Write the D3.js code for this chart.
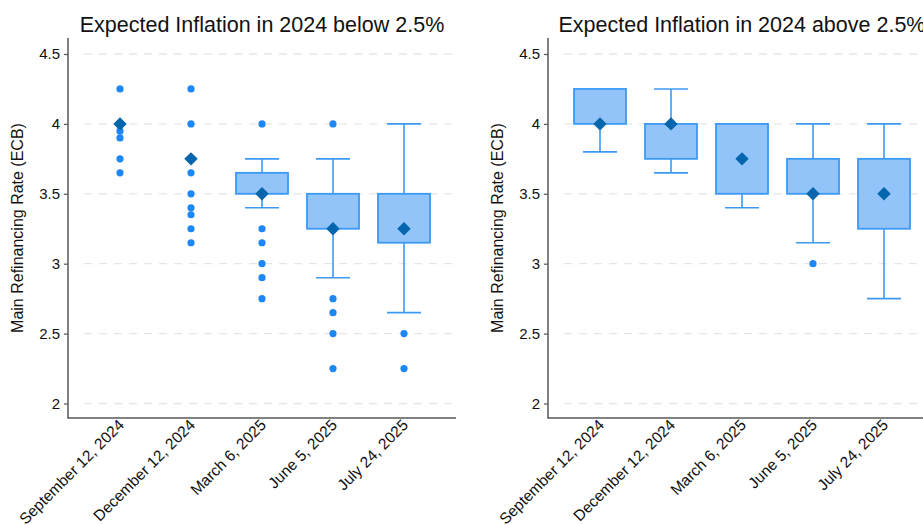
<!DOCTYPE html>
<html>
<head>
<meta charset="utf-8">
<script src="https://cdn.jsdelivr.net/npm/d3@7"></script>
<style>
  html, body { margin: 0; padding: 0; background: #fff; }
  svg { display: block; font-family: "Liberation Sans", Arial, Helvetica, sans-serif; }
</style>
</head>
<body>
<svg id="chart" width="923" height="525"></svg>
<script>
// Survey meeting dates
const categories = ["September 12, 2024", "December 12, 2024", "March 6, 2025", "June 5, 2025", "July 24, 2025"];
const yTicks = [2, 2.5, 3, 3.5, 4, 4.5];
const panelTitles = ["Expected Inflation in 2024 below 2.5%", "Expected Inflation in 2024 above 2.5%"];
const yLabel = "Main Refinancing Rate (ECB)";

// Panel 1: expected inflation below 2.5%
const lowMedian   = [4.00, 3.75, 3.50, 3.25, 3.25];
const lowQ1       = [4.00, 3.75, 3.50, 3.25, 3.15];
const lowQ3       = [4.00, 3.75, 3.65, 3.50, 3.50];
const lowWhiskLo  = [4.00, 3.75, 3.40, 2.90, 2.65];
const lowWhiskHi  = [4.00, 3.75, 3.75, 3.75, 4.00];
const lowOutliers = [
  [4.25, 3.95, 3.90, 3.75, 3.65],
  [4.25, 4.00, 3.65, 3.50, 3.40, 3.35, 3.25, 3.15],
  [4.00, 3.25, 3.15, 3.00, 2.90, 2.75],
  [4.00, 2.75, 2.65, 2.50, 2.25],
  [2.50, 2.25]
];

// Panel 2: expected inflation above 2.5%
const highMedian   = [4.00, 4.00, 3.75, 3.50, 3.50];
const highQ1       = [4.00, 3.75, 3.50, 3.50, 3.25];
const highQ3       = [4.25, 4.00, 4.00, 3.75, 3.75];
const highWhiskLo  = [3.80, 3.65, 3.40, 3.15, 2.75];
const highWhiskHi  = [4.25, 4.25, 4.00, 4.00, 4.00];
const highOutliers = [[], [], [], [3.00], []];

const panels = [
  { title: panelTitles[0], median: lowMedian, q1: lowQ1, q3: lowQ3, lo: lowWhiskLo, hi: lowWhiskHi, out: lowOutliers, dx: 0 },
  { title: panelTitles[1], median: highMedian, q1: highQ1, q3: highQ3, lo: highWhiskLo, hi: highWhiskHi, out: highOutliers, dx: 480 }
];

const colors = {
  fill: "#92c4fa",
  stroke: "#3c9af4",
  dot: "#1e87f6",
  median: "#0565ad",
  axis: "#595959",
  grid: "#e6e6e6",
  text: "#111"
};

const svg = d3.select("#chart");

const y = d3.scaleLinear().domain([2, 4.5]).range([403.5, 54]);
const axisTop = 38, axisBottom = 418;
const boxW = 52, capW = 34;

panels.forEach(p => {
  const g = svg.append("g").attr("transform", `translate(${p.dx},0)`);
  const x = d3.scaleBand().domain(categories).range([84.5, 439.5]).padding(0);
  const cx = c => x(c) + x.bandwidth() / 2;

  // dashed gridlines
  g.append("g").selectAll("line").data(yTicks).join("line")
    .attr("x1", 84).attr("x2", 454)
    .attr("y1", d => y(d)).attr("y2", d => y(d))
    .attr("stroke", colors.grid).attr("stroke-width", 1.3)
    .attr("stroke-dasharray", "8,7");

  // y axis
  const yAxis = d3.axisLeft(y).tickValues(yTicks).tickSize(4).tickPadding(4)
    .tickFormat(d => String(d));
  const ya = g.append("g").attr("transform", "translate(68,0)").call(yAxis);
  ya.select(".domain").remove();
  ya.selectAll(".tick line").attr("stroke", colors.axis).attr("stroke-width", 1.2);
  ya.selectAll(".tick text").attr("fill", colors.text).attr("font-size", 15)
    .attr("font-family", "'Liberation Sans', Arial, sans-serif");
  g.append("line").attr("x1", 68).attr("x2", 68).attr("y1", axisTop).attr("y2", axisBottom)
    .attr("stroke", colors.axis).attr("stroke-width", 1.5);

  // x axis
  g.append("line").attr("x1", 67.25).attr("x2", 456).attr("y1", axisBottom).attr("y2", axisBottom)
    .attr("stroke", colors.axis).attr("stroke-width", 1.5);
  g.append("g").selectAll("text").data(categories).join("text")
    .attr("transform", d => `translate(${cx(d) + 5},${axisBottom + 8}) rotate(-45)`)
    .attr("text-anchor", "end")
    .attr("font-size", 15.5)
    .attr("fill", colors.text)
    .text(d => d);

  // y title
  g.append("text")
    .attr("transform", `translate(23,${(axisTop + axisBottom) / 2}) rotate(-90)`)
    .attr("text-anchor", "middle")
    .attr("font-size", 16)
    .attr("fill", colors.text)
    .text(yLabel);

  // panel title
  g.append("text")
    .attr("x", 262).attr("y", 32)
    .attr("text-anchor", "middle")
    .attr("font-size", 21.5)
    .attr("fill", colors.text)
    .text(p.title);

  // boxes
  categories.forEach((c, i) => {
    const xc = cx(c);
    const bg = g.append("g");
    // whiskers
    if (p.hi[i] > p.q3[i]) {
      bg.append("line").attr("x1", xc).attr("x2", xc).attr("y1", y(p.q3[i])).attr("y2", y(p.hi[i]))
        .attr("stroke", colors.stroke).attr("stroke-width", 1.6);
      bg.append("line").attr("x1", xc - capW / 2).attr("x2", xc + capW / 2).attr("y1", y(p.hi[i])).attr("y2", y(p.hi[i]))
        .attr("stroke", colors.stroke).attr("stroke-width", 1.6);
    }
    if (p.lo[i] < p.q1[i]) {
      bg.append("line").attr("x1", xc).attr("x2", xc).attr("y1", y(p.q1[i])).attr("y2", y(p.lo[i]))
        .attr("stroke", colors.stroke).attr("stroke-width", 1.6);
      bg.append("line").attr("x1", xc - capW / 2).attr("x2", xc + capW / 2).attr("y1", y(p.lo[i])).attr("y2", y(p.lo[i]))
        .attr("stroke", colors.stroke).attr("stroke-width", 1.6);
    }
    // box
    if (p.q3[i] > p.q1[i]) {
      bg.append("rect")
        .attr("x", xc - boxW / 2).attr("width", boxW)
        .attr("y", y(p.q3[i])).attr("height", y(p.q1[i]) - y(p.q3[i]))
        .attr("fill", colors.fill).attr("stroke", colors.stroke).attr("stroke-width", 1.8);
    }
    // outside values
    bg.selectAll("circle").data(p.out[i]).join("circle")
      .attr("cx", xc).attr("cy", d => y(d)).attr("r", 3.6)
      .attr("fill", colors.dot);
    // median marker
    bg.append("path")
      .attr("d", d3.symbol().type(d3.symbolDiamond2).size(115)())
      .attr("transform", `translate(${xc},${y(p.median[i])})`)
      .attr("fill", colors.median);
  });
});
</script>
</body>
</html>
